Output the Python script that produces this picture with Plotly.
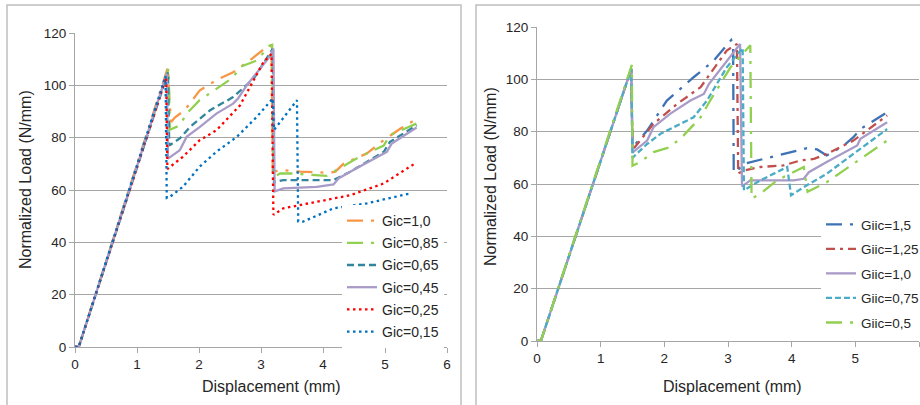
import plotly.graph_objects as go

W, H = 920, 405

# ---------------- Left panel data (Gic series) ----------------
gic_names = ["Gic=1,0", "Gic=0,85", "Gic=0,65", "Gic=0,45", "Gic=0,25", "Gic=0,15"]

gic10_x = [0, 0.06, 1.50, 1.52, 1.55, 1.61, 1.77, 2.01, 2.28, 2.55, 2.79, 3.09, 3.17, 3.19, 3.36, 3.63, 4.09, 4.20, 4.33, 4.71, 5.03, 5.10, 5.25, 5.48]
gic10_y = [0, 0, 107, 95, 86, 87.7, 90.5, 98, 102, 105, 109, 114.6, 115, 67, 67.6, 67, 66.6, 67, 70, 74, 80, 81, 83.5, 86.7]

gic085_x = [0, 0.06, 1.51, 1.53, 1.69, 1.80, 2.01, 2.28, 2.55, 2.66, 2.93, 3.14, 3.18, 3.20, 3.31, 3.52, 4.06, 4.22, 4.49, 4.71, 4.98, 5.08, 5.51]
gic085_y = [0, 0, 106.4, 83, 84.7, 89.2, 94.3, 98.7, 103, 107, 109.5, 115.2, 115.5, 65, 66.3, 66.3, 65.4, 67.6, 71.4, 74, 77, 81, 85.4]

gic065_x = [0, 0.06, 1.50, 1.52, 1.69, 1.85, 2.18, 2.55, 2.88, 3.14, 3.19, 3.21, 3.36, 4.17, 4.44, 4.98, 5.08, 5.51]
gic065_y = [0, 0, 105, 77, 79.7, 84, 90.5, 95.5, 102.5, 112, 114, 63, 63.8, 63.8, 67, 74.6, 78.4, 84.7]

gic045_x = [0, 0.06, 1.48, 1.50, 1.69, 1.80, 2.01, 2.28, 2.55, 2.63, 2.77, 3.14, 3.20, 3.22, 3.36, 3.63, 3.90, 4.17, 4.25, 4.49, 4.71, 5.03, 5.11, 5.51]
gic045_y = [0, 0, 104.4, 72, 75.2, 80.3, 84, 89.2, 93, 95, 100, 111, 114, 59.5, 60.6, 60.9, 61.2, 62.1, 64.4, 67.6, 70.4, 74.6, 77.8, 83.9]

gic025_x = [0, 0.06, 1.47, 1.49, 1.74, 2.01, 2.28, 2.66, 3.04, 3.17, 3.20, 3.36, 3.90, 4.44, 4.98, 5.46]
gic025_y = [0, 0, 103, 68, 72.7, 79, 82.8, 92.3, 108.9, 112, 50.5, 53, 55.5, 58, 62.5, 69.8]

gic015_x = [0, 0.06, 1.46, 1.48, 1.53, 1.74, 2.01, 2.28, 2.61, 2.93, 3.19, 3.21, 3.31, 3.58, 3.60, 3.68, 4.17, 4.71, 4.98, 5.41]
gic015_y = [0, 0, 103.5, 57, 57.4, 61.2, 68.9, 74.6, 80.3, 87.9, 95, 83, 86, 94.3, 48, 47.9, 53, 54.9, 56.4, 58.7]

# ---------------- Right panel data (Giic series) ----------------
giic_names = ["Giic=1,5", "Giic=1,25", "Giic=1,0", "Giic=0,75", "Giic=0,5"]

giic15_x = [0, 0.06, 1.48, 1.50, 1.73, 2.04, 2.46, 2.77, 3.05, 3.08, 3.09, 3.12, 3.25, 3.40, 3.77, 4.24, 4.40, 4.55, 4.82, 4.97, 5.08, 5.50]
giic15_y = [0, 0, 104, 74, 80.4, 91.9, 100.8, 107, 115, 113, 64.5, 64.5, 67.7, 68.6, 70.9, 73.7, 73.2, 70.9, 74.7, 77.9, 81, 87.4]

giic125_x = [0, 0.06, 1.48, 1.50, 1.83, 2.20, 2.57, 2.98, 3.14, 3.16, 3.25, 3.51, 3.87, 4.14, 4.35, 4.55, 4.97, 5.50]
giic125_y = [0, 0, 104, 73, 83, 90.6, 97, 111, 113.5, 64, 65.2, 66.5, 67.1, 69, 69.6, 71.5, 76.6, 86.2]

giic10_x = [0, 0.06, 1.48, 1.50, 1.73, 1.83, 2.09, 2.41, 2.62, 2.70, 3.19, 3.22, 3.35, 3.77, 4.03, 4.19, 4.27, 4.55, 5.03, 5.08, 5.50]
giic10_y = [0, 0, 104, 72, 76.6, 81.7, 86.8, 91.9, 94.4, 98.2, 113.5, 59.1, 61.4, 61.4, 61.4, 62, 64.5, 68.4, 74.7, 77.3, 83.6]

giic075_x = [0, 0.06, 1.48, 1.50, 1.73, 1.94, 2.46, 2.67, 2.98, 3.19, 3.23, 3.25, 3.51, 3.93, 3.99, 4.19, 4.55, 4.97, 5.50]
giic075_y = [0, 0, 104, 70, 75.3, 79.2, 85.5, 91.9, 104.6, 111, 112, 57.6, 61.4, 66.5, 55.7, 58.8, 63.9, 71.5, 81]

giic05_x = [0, 0.06, 1.49, 1.50, 1.62, 1.83, 2.09, 2.30, 2.57, 2.72, 3.04, 3.35, 3.37, 3.51, 3.77, 4.03, 4.19, 4.25, 4.55, 4.82, 5.50]
giic05_y = [0, 0, 105.5, 67, 68.4, 72.2, 74.1, 78.5, 85.5, 91.9, 104.6, 113, 54.4, 56.3, 61.4, 64.5, 66.5, 57, 60.7, 65.2, 76.6]

x_ticks = [0, 1, 2, 3, 4, 5, 6]
y_ticks = [0, 20, 40, 60, 80, 100, 120]

left_series = [
    (gic10_x, gic10_y, "#F79646", "16px,8px,3px,8px"),
    (gic085_x, gic085_y, "#92D050", "16px,8px,3px,8px"),
    (gic065_x, gic065_y, "#31859C", "7px,4px"),
    (gic045_x, gic045_y, "#A99BC8", "solid"),
    (gic025_x, gic025_y, "#FF0000", "2.5px,3.5px"),
    (gic015_x, gic015_y, "#0070C0", "2.5px,3.5px"),
]
right_series = [
    (giic15_x, giic15_y, "#3E72B5", "16px,8px,3px,8px"),
    (giic125_x, giic125_y, "#C0504D", "9px,5px,3px,5px"),
    (giic10_x, giic10_y, "#A99BC8", "solid"),
    (giic075_x, giic075_y, "#4BACC6", "6px,3px"),
    (giic05_x, giic05_y, "#92D050", "16px,8px,3px,8px"),
]

fig = go.Figure()
for i, (name, (xs, ys, col, dash)) in enumerate(zip(gic_names, left_series)):
    fig.add_trace(go.Scatter(x=xs, y=ys, mode="lines", name=name,
                             line=dict(color=col, width=2.3, dash=dash),
                             xaxis="x", yaxis="y", legend="legend",
                             legendgroup="L%d" % i))
for i, (name, (xs, ys, col, dash)) in enumerate(zip(giic_names, right_series)):
    fig.add_trace(go.Scatter(x=xs, y=ys, mode="lines", name=name,
                             line=dict(color=col, width=2.3, dash=dash),
                             xaxis="x2", yaxis="y2", legend="legend2",
                             legendgroup="R%d" % i))

grid = "#A6A6A6"
tickfont = dict(family="Liberation Sans, Arial", size=13.5, color="#262626")

def xaxis(domain, anchor):
    return dict(domain=domain, anchor=anchor, range=[0, 6], tickvals=x_ticks,
                showgrid=False, zeroline=False, showline=True, linecolor=grid,
                linewidth=1, ticks="outside", ticklen=5, tickcolor=grid,
                tickfont=tickfont, fixedrange=True, automargin=False)

def yaxis(domain, anchor):
    return dict(domain=domain, anchor=anchor, range=[0, 120], tickvals=y_ticks,
                showgrid=True, gridcolor=grid, gridwidth=1, zeroline=False,
                showline=True, linecolor=grid, linewidth=1, ticks="outside",
                ticklen=5, tickcolor=grid, tickfont=tickfont, fixedrange=True,
                automargin=False)

fig.update_layout(
    width=W, height=H,
    margin=dict(l=0, r=0, t=0, b=0, autoexpand=False),
    paper_bgcolor="white", plot_bgcolor="white",
    xaxis=xaxis([75 / W, 447 / W], "y"),
    yaxis=yaxis([1 - 347 / H, 1 - 33 / H], "x"),
    xaxis2=xaxis([537 / W, 919 / W], "y2"),
    yaxis2=yaxis([1 - 341 / H, 1 - 27 / H], "x2"),
    legend=dict(x=342 / W, y=1 - 205 / H, xanchor="left", yanchor="top",
                bgcolor="white", font=dict(family="Liberation Sans, Arial", size=14, color="#262626"),
                tracegroupgap=1, itemwidth=30),
    legend2=dict(x=821 / W, y=1 - 209 / H, xanchor="left", yanchor="top",
                 bgcolor="white", font=dict(family="Liberation Sans, Arial", size=13.5, color="#262626"),
                 tracegroupgap=4, itemwidth=30),
    showlegend=True,
)

titlefont = dict(family="Liberation Sans, Arial", size=16, color="#262626")
fig.add_annotation(text="Displacement (mm)", x=271 / W, y=1 - 386 / H, xref="paper", yref="paper",
                   showarrow=False, font=titlefont, xanchor="center", yanchor="middle")
fig.add_annotation(text="Displacement (mm)", x=732 / W, y=1 - 386 / H, xref="paper", yref="paper",
                   showarrow=False, font=titlefont, xanchor="center", yanchor="middle")
fig.add_annotation(text="Normalized Load (N/mm)", x=25 / W, y=1 - 180 / H, xref="paper", yref="paper",
                   showarrow=False, font=titlefont, textangle=-90, xanchor="center", yanchor="middle")
fig.add_annotation(text="Normalized Load (N/mm)", x=490 / W, y=1 - 177 / H, xref="paper", yref="paper",
                   showarrow=False, font=titlefont, textangle=-90, xanchor="center", yanchor="middle")

border = "#BFBFBF"
fig.add_shape(type="rect", xref="paper", yref="paper", x0=7 / W, x1=461 / W, y0=-0.1, y1=1 - 5 / H,
              line=dict(color=border, width=1.5), fillcolor="rgba(0,0,0,0)", layer="below")
fig.add_shape(type="rect", xref="paper", yref="paper", x0=476 / W, x1=1.1, y0=-0.1, y1=1 - 5 / H,
              line=dict(color=border, width=1.5), fillcolor="rgba(0,0,0,0)", layer="below")

fig.write_html("out.html")
